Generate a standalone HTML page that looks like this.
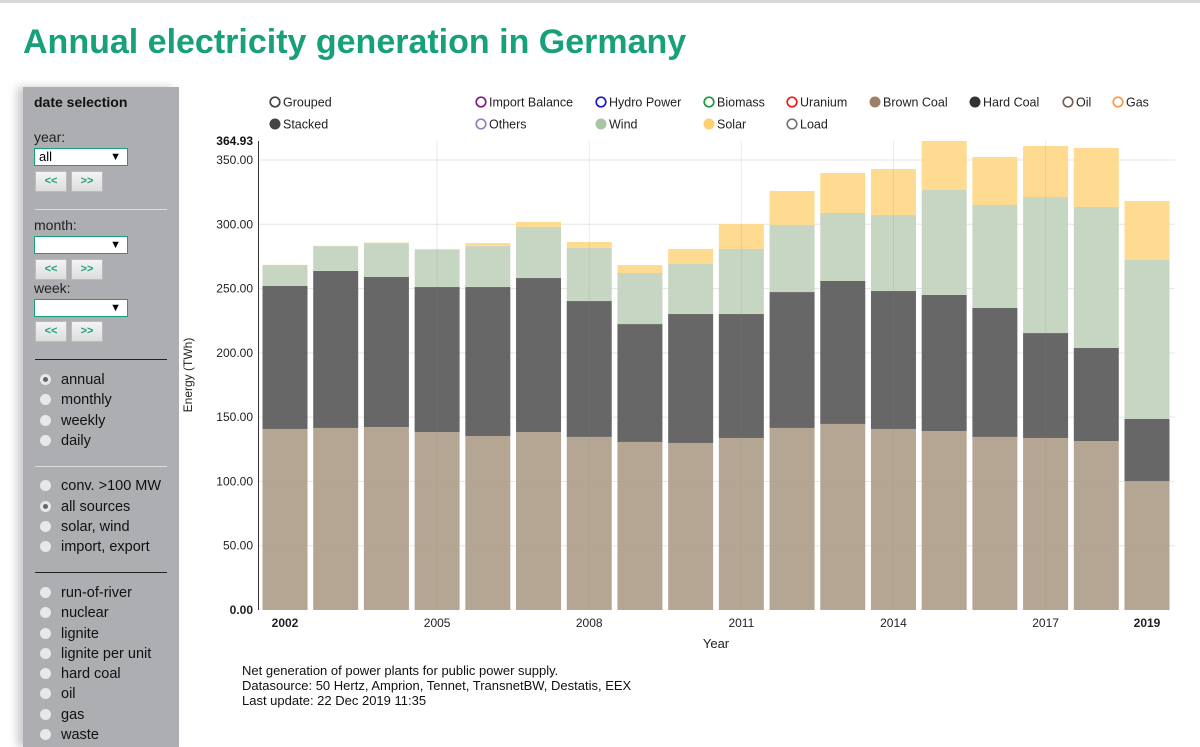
<!DOCTYPE html>
<html><head><meta charset="utf-8"><style>
body{margin:0;width:1200px;height:735px;overflow:hidden;background:#fff;font-family:"Liberation Sans",Arial,sans-serif;position:relative}
#topbar{position:absolute;left:0;top:0;width:1200px;height:3px;background:#d8d8d8}
h1{position:absolute;left:23px;top:23px;margin:0;font-size:34px;color:#17a07a;font-weight:bold}
#side{position:absolute;left:23px;top:87px;width:156px;height:660px;background:#adaeb2;box-shadow:-6px 0 8px #ccc}
#side .t{position:absolute;left:11px;top:7px;font-weight:bold;font-size:14px;color:#111}
.lbl{position:absolute;left:11px;font-size:14px;color:#222}
.sel{position:absolute;left:11px;width:88px;height:16px;background:#fff;border:1px solid #17a07a;font-size:13px;padding-left:4px;line-height:16px}
.sel:after{content:"▼";position:absolute;right:6px;top:0;font-size:11px}
.btn{position:absolute;width:30px;height:19px;background:linear-gradient(#f4f4f4,#ddd);border:1px solid #bbb;color:#17a07a;font-size:11px;font-weight:bold;text-align:center;line-height:19px}
.hr{position:absolute;left:12px;width:132px;height:1px;background:#ddd}
.rad{position:absolute;left:17px;font-size:14.5px;color:#111;padding-left:21px;line-height:16px}
.rad:before{content:"";position:absolute;left:0;top:2px;width:11px;height:11px;border-radius:50%;background:#e8e8e8}
.rad.on:after{content:"";position:absolute;left:3px;top:5px;width:5px;height:5px;border-radius:50%;background:#666}
</style></head><body>
<div id="topbar"></div>
<h1>Annual electricity generation in Germany</h1>
<div id="side">
<div class="t">date selection</div>
<div class="lbl" style="top:42px">year:</div>
<div class="sel" style="top:61px">all</div>
<div class="btn" style="left:12px;top:84px">&lt;&lt;</div>
<div class="btn" style="left:48px;top:84px">&gt;&gt;</div>
<div class="hr" style="top:122px"></div>
<div class="lbl" style="top:130px">month:</div>
<div class="sel" style="top:149px"></div>
<div class="btn" style="left:12px;top:172px">&lt;&lt;</div>
<div class="btn" style="left:48px;top:172px">&gt;&gt;</div>
<div class="lbl" style="top:193px">week:</div>
<div class="sel" style="top:212px"></div>
<div class="btn" style="left:12px;top:234px">&lt;&lt;</div>
<div class="btn" style="left:48px;top:234px">&gt;&gt;</div>
<div class="hr" style="top:272px;background:#222"></div>
<div class="rad on" style="top:285px">annual</div>
<div class="rad" style="top:305px">monthly</div>
<div class="rad" style="top:326px">weekly</div>
<div class="rad" style="top:346px">daily</div>
<div class="hr" style="top:379px"></div>
<div class="rad" style="top:391px">conv. &gt;100 MW</div>
<div class="rad on" style="top:412px">all sources</div>
<div class="rad" style="top:432px">solar, wind</div>
<div class="rad" style="top:452px">import, export</div>
<div class="hr" style="top:485px;background:#222"></div>
<div class="rad" style="top:498px">run-of-river</div>
<div class="rad" style="top:518px">nuclear</div>
<div class="rad" style="top:539px">lignite</div>
<div class="rad" style="top:559px">lignite per unit</div>
<div class="rad" style="top:579px">hard coal</div>
<div class="rad" style="top:599px">oil</div>
<div class="rad" style="top:620px">gas</div>
<div class="rad" style="top:640px">waste</div>
</div>
<svg id="chart" width="1200" height="735" style="position:absolute;left:0;top:0" font-family="Liberation Sans, Arial, sans-serif"></svg>
<script>
const years=[2002,2003,2004,2005,2006,2007,2008,2009,2010,2011,2012,2013,2014,2015,2016,2017,2018,2019];
const brownCoal=[140.8,141.6,142.3,138.4,135.3,138.4,134.6,130.7,129.9,133.8,141.6,144.7,140.8,139.2,134.6,133.8,131.4,100.3];
const hardCoal=[111.2,122.1,116.7,112.8,115.9,119.8,105.7,91.7,100.3,96.4,105.7,111.2,107.3,105.8,100.3,81.6,72.4,48.3];
const wind=[16.3,19.3,26.4,28.8,31.8,39.7,41.3,39.7,38.9,50.6,52.2,52.9,59.1,81.7,80.1,105.8,109.7,123.6];
const solar=[0.2,0.2,0.3,0.8,2.4,3.9,4.6,6.2,11.7,19.4,26.4,31.1,35.8,38.1,37.3,39.7,45.8,45.9];
const yTicks=[0,50,100,150,200,250,300,350];
const xTickYears=[2002,2005,2008,2011,2014,2017,2019];
const yMax=364.93;
const svg=document.getElementById('chart');
const NS='http://www.w3.org/2000/svg';
const y0=610,pxPer=450/350,x0=285,step=(1147-285)/17,bw=45;
const Y=v=>y0-v*pxPer, X=yr=>x0+(yr-2002)*step;
function mk(t,a,p){const e=document.createElementNS(NS,t);for(const k in a)e.setAttribute(k,a[k]);(p||svg).appendChild(e);return e;}
yTicks.filter(v=>v>0).forEach(v=>{const l=mk('line',{x1:259,x2:1175,y1:Y(v),y2:Y(v),stroke:'#e6e6e6'});

});
const series=[[brownCoal,'#ae9e8a','brown-coal'],[hardCoal,'#5a5a5a','hard-coal'],[wind,'#c2d3bd','wind'],[solar,'#fed888','solar']];
years.forEach((yr,i)=>{let base=0;series.forEach(([arr,col,nm])=>{const v=arr[i];
const r=mk('rect',{x:X(yr)-bw/2,y:Y(base+v),width:bw,height:v*pxPer,fill:col,'fill-opacity':0.92});


base+=v;});});
[2005,2008,2011,2014,2017].forEach(yr=>{const l=mk('line',{x1:X(yr),x2:X(yr),y1:141,y2:y0,stroke:'#888','stroke-opacity':0.18});

});
const ax=mk('line',{x1:258.5,x2:258.5,y1:141,y2:y0,stroke:'#333'});


yTicks.forEach(v=>{const t=mk('text',{x:253,y:Y(v)+4,'text-anchor':'end','font-size':12,fill:'#222','font-weight':v===0?'bold':'normal'});t.textContent=v.toFixed(2);

});
const tm=mk('text',{x:253,y:Y(yMax)+4,'text-anchor':'end','font-size':12,fill:'#111','font-weight':'bold'});tm.textContent=yMax.toFixed(2);


xTickYears.forEach(yr=>{const b=(yr===2002||yr===2019);const t=mk('text',{x:X(yr),y:627,'text-anchor':'middle','font-size':12,fill:'#222','font-weight':b?'bold':'normal'});t.textContent=yr;

});
const xt=mk('text',{x:716,y:648,'text-anchor':'middle','font-size':13,fill:'#222'});xt.textContent='Year';


const yt=mk('text',{x:0,y:0,transform:'translate(192,375) rotate(-90)','text-anchor':'middle','font-size':12,fill:'#222'});yt.textContent='Energy (TWh)';


['Net generation of power plants for public power supply.','Datasource: 50 Hertz, Amprion, Tennet, TransnetBW, Destatis, EEX','Last update: 22 Dec 2019 11:35'].forEach((s,i)=>{const t=mk('text',{x:242,y:675+i*15,'font-size':13,fill:'#111'});t.textContent=s;

});
const legend=[[275,102,'Grouped','#444',false],[275,124,'Stacked','#444',true],[481,102,'Import Balance','#7b1f86',false],[481,124,'Others','#9b80c0',false],[601,102,'Hydro Power','#1a1acc',false],[601,124,'Wind','#a8c4a2',true],[709,102,'Biomass','#1e9a3a',false],[709,124,'Solar','#fed070',true],[792,102,'Uranium','#ee1c1c',false],[792,124,'Load','#777',false],[875,102,'Brown Coal','#9c8068',true],[975,102,'Hard Coal','#333',true],[1068,102,'Oil','#7a6050',false],[1118,102,'Gas','#f59a4f',false]];
legend.forEach(([x,y,n,c,f])=>{const g=mk('g',{});


mk('circle',{cx:x,cy:y,r:f?5.5:4.8,fill:f?c:'#fff',stroke:c,'stroke-width':f?0:1.7},g);
const t=mk('text',{x:x+8,y:y+4.5,'font-size':12.5,fill:'#222'},g);t.textContent=n;});
</script>
</body></html>
